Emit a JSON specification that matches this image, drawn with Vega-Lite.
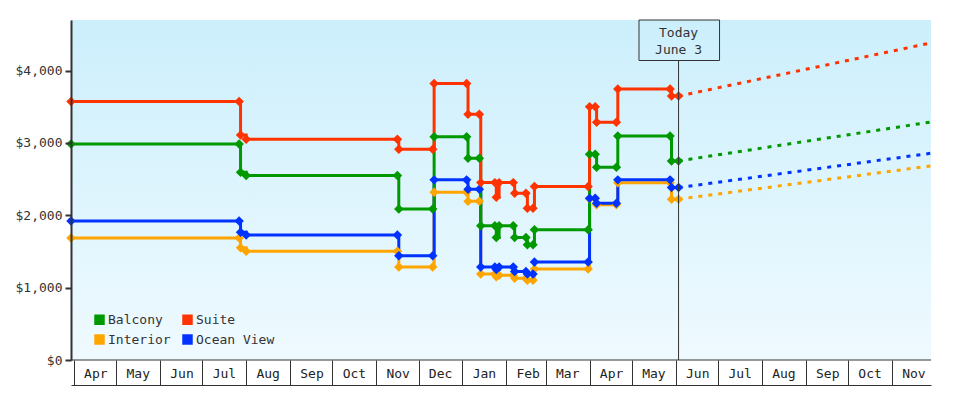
{
  "$schema": "https://vega.github.io/schema/vega-lite/v6.json",
  "autosize": "none",
  "width": 860,
  "height": 340,
  "padding": {"left": 71, "top": 20, "right": 49, "bottom": 40},
  "background": "white",
  "config": {
    "view": {"stroke": null},
    "font": "DejaVu Sans Mono"
  },
  "datasets": {
    "prices": [
      {"date": "2013-03-30", "series": "Interior", "price": 1686},
      {"date": "2013-07-27", "series": "Interior", "price": 1686},
      {"date": "2013-07-28", "series": "Interior", "price": 1552},
      {"date": "2013-08-01", "series": "Interior", "price": 1503},
      {"date": "2013-11-16", "series": "Interior", "price": 1503},
      {"date": "2013-11-17", "series": "Interior", "price": 1286},
      {"date": "2013-12-11", "series": "Interior", "price": 1286},
      {"date": "2013-12-12", "series": "Interior", "price": 2320},
      {"date": "2014-01-04", "series": "Interior", "price": 2320},
      {"date": "2014-01-05", "series": "Interior", "price": 2193},
      {"date": "2014-01-13", "series": "Interior", "price": 2193},
      {"date": "2014-01-14", "series": "Interior", "price": 1189},
      {"date": "2014-01-24", "series": "Interior", "price": 1189},
      {"date": "2014-01-25", "series": "Interior", "price": 1150},
      {"date": "2014-01-27", "series": "Interior", "price": 1170},
      {"date": "2014-02-06", "series": "Interior", "price": 1170},
      {"date": "2014-02-07", "series": "Interior", "price": 1130},
      {"date": "2014-02-15", "series": "Interior", "price": 1130},
      {"date": "2014-02-16", "series": "Interior", "price": 1101},
      {"date": "2014-02-20", "series": "Interior", "price": 1101},
      {"date": "2014-02-21", "series": "Interior", "price": 1258},
      {"date": "2014-03-31", "series": "Interior", "price": 1258},
      {"date": "2014-04-01", "series": "Interior", "price": 2228},
      {"date": "2014-04-05", "series": "Interior", "price": 2228},
      {"date": "2014-04-06", "series": "Interior", "price": 2145},
      {"date": "2014-04-20", "series": "Interior", "price": 2145},
      {"date": "2014-04-21", "series": "Interior", "price": 2450},
      {"date": "2014-05-28", "series": "Interior", "price": 2450},
      {"date": "2014-05-29", "series": "Interior", "price": 2223},
      {"date": "2014-06-03", "series": "Interior", "price": 2223},

      {"date": "2013-03-30", "series": "Ocean View", "price": 1920},
      {"date": "2013-07-27", "series": "Ocean View", "price": 1920},
      {"date": "2013-07-28", "series": "Ocean View", "price": 1766},
      {"date": "2013-08-01", "series": "Ocean View", "price": 1727},
      {"date": "2013-11-16", "series": "Ocean View", "price": 1727},
      {"date": "2013-11-17", "series": "Ocean View", "price": 1441},
      {"date": "2013-12-11", "series": "Ocean View", "price": 1441},
      {"date": "2013-12-12", "series": "Ocean View", "price": 2490},
      {"date": "2014-01-04", "series": "Ocean View", "price": 2490},
      {"date": "2014-01-05", "series": "Ocean View", "price": 2361},
      {"date": "2014-01-13", "series": "Ocean View", "price": 2361},
      {"date": "2014-01-14", "series": "Ocean View", "price": 1286},
      {"date": "2014-01-24", "series": "Ocean View", "price": 1286},
      {"date": "2014-01-25", "series": "Ocean View", "price": 1250},
      {"date": "2014-01-27", "series": "Ocean View", "price": 1286},
      {"date": "2014-02-06", "series": "Ocean View", "price": 1286},
      {"date": "2014-02-07", "series": "Ocean View", "price": 1225},
      {"date": "2014-02-15", "series": "Ocean View", "price": 1225},
      {"date": "2014-02-16", "series": "Ocean View", "price": 1189},
      {"date": "2014-02-20", "series": "Ocean View", "price": 1189},
      {"date": "2014-02-21", "series": "Ocean View", "price": 1354},
      {"date": "2014-03-31", "series": "Ocean View", "price": 1354},
      {"date": "2014-04-01", "series": "Ocean View", "price": 2237},
      {"date": "2014-04-05", "series": "Ocean View", "price": 2237},
      {"date": "2014-04-06", "series": "Ocean View", "price": 2168},
      {"date": "2014-04-20", "series": "Ocean View", "price": 2168},
      {"date": "2014-04-21", "series": "Ocean View", "price": 2490},
      {"date": "2014-05-28", "series": "Ocean View", "price": 2490},
      {"date": "2014-05-29", "series": "Ocean View", "price": 2383},
      {"date": "2014-06-03", "series": "Ocean View", "price": 2383},

      {"date": "2013-03-30", "series": "Balcony", "price": 2986},
      {"date": "2013-07-27", "series": "Balcony", "price": 2986},
      {"date": "2013-07-28", "series": "Balcony", "price": 2596},
      {"date": "2013-08-01", "series": "Balcony", "price": 2552},
      {"date": "2013-11-16", "series": "Balcony", "price": 2552},
      {"date": "2013-11-17", "series": "Balcony", "price": 2086},
      {"date": "2013-12-11", "series": "Balcony", "price": 2086},
      {"date": "2013-12-12", "series": "Balcony", "price": 3087},
      {"date": "2014-01-04", "series": "Balcony", "price": 3087},
      {"date": "2014-01-05", "series": "Balcony", "price": 2789},
      {"date": "2014-01-13", "series": "Balcony", "price": 2789},
      {"date": "2014-01-14", "series": "Balcony", "price": 1855},
      {"date": "2014-01-24", "series": "Balcony", "price": 1855},
      {"date": "2014-01-25", "series": "Balcony", "price": 1694},
      {"date": "2014-01-27", "series": "Balcony", "price": 1855},
      {"date": "2014-02-06", "series": "Balcony", "price": 1855},
      {"date": "2014-02-07", "series": "Balcony", "price": 1694},
      {"date": "2014-02-15", "series": "Balcony", "price": 1694},
      {"date": "2014-02-16", "series": "Balcony", "price": 1593},
      {"date": "2014-02-20", "series": "Balcony", "price": 1593},
      {"date": "2014-02-21", "series": "Balcony", "price": 1800},
      {"date": "2014-03-31", "series": "Balcony", "price": 1800},
      {"date": "2014-04-01", "series": "Balcony", "price": 2844},
      {"date": "2014-04-05", "series": "Balcony", "price": 2844},
      {"date": "2014-04-06", "series": "Balcony", "price": 2665},
      {"date": "2014-04-20", "series": "Balcony", "price": 2665},
      {"date": "2014-04-21", "series": "Balcony", "price": 3097},
      {"date": "2014-05-28", "series": "Balcony", "price": 3097},
      {"date": "2014-05-29", "series": "Balcony", "price": 2752},
      {"date": "2014-06-03", "series": "Balcony", "price": 2752},

      {"date": "2013-03-30", "series": "Suite", "price": 3575},
      {"date": "2013-07-27", "series": "Suite", "price": 3575},
      {"date": "2013-07-28", "series": "Suite", "price": 3110},
      {"date": "2013-08-01", "series": "Suite", "price": 3050},
      {"date": "2013-11-16", "series": "Suite", "price": 3050},
      {"date": "2013-11-17", "series": "Suite", "price": 2913},
      {"date": "2013-12-11", "series": "Suite", "price": 2913},
      {"date": "2013-12-12", "series": "Suite", "price": 3823},
      {"date": "2014-01-04", "series": "Suite", "price": 3823},
      {"date": "2014-01-05", "series": "Suite", "price": 3396},
      {"date": "2014-01-13", "series": "Suite", "price": 3396},
      {"date": "2014-01-14", "series": "Suite", "price": 2452},
      {"date": "2014-01-24", "series": "Suite", "price": 2452},
      {"date": "2014-01-25", "series": "Suite", "price": 2251},
      {"date": "2014-01-27", "series": "Suite", "price": 2452},
      {"date": "2014-02-06", "series": "Suite", "price": 2452},
      {"date": "2014-02-07", "series": "Suite", "price": 2306},
      {"date": "2014-02-15", "series": "Suite", "price": 2306},
      {"date": "2014-02-16", "series": "Suite", "price": 2099},
      {"date": "2014-02-20", "series": "Suite", "price": 2099},
      {"date": "2014-02-21", "series": "Suite", "price": 2400},
      {"date": "2014-03-31", "series": "Suite", "price": 2400},
      {"date": "2014-04-01", "series": "Suite", "price": 3501},
      {"date": "2014-04-05", "series": "Suite", "price": 3501},
      {"date": "2014-04-06", "series": "Suite", "price": 3286},
      {"date": "2014-04-20", "series": "Suite", "price": 3286},
      {"date": "2014-04-21", "series": "Suite", "price": 3745},
      {"date": "2014-05-28", "series": "Suite", "price": 3745},
      {"date": "2014-05-29", "series": "Suite", "price": 3648},
      {"date": "2014-06-03", "series": "Suite", "price": 3648}
    ],
    "forecast": [
      {"date": "2014-06-03", "series": "Interior", "price": 2223},
      {"date": "2014-11-28T16:00:00Z", "series": "Interior", "price": 2683},
      {"date": "2014-06-03", "series": "Ocean View", "price": 2383},
      {"date": "2014-11-28T16:00:00Z", "series": "Ocean View", "price": 2858},
      {"date": "2014-06-03", "series": "Balcony", "price": 2752},
      {"date": "2014-11-28T16:00:00Z", "series": "Balcony", "price": 3290},
      {"date": "2014-06-03", "series": "Suite", "price": 3648},
      {"date": "2014-11-28T16:00:00Z", "series": "Suite", "price": 4383}
    ],
    "annot": [{"today": "2014-06-03", "boxStart": "2014-05-06", "boxEnd": "2014-07-02", "first": "2013-03-30", "last": "2014-11-28T16:00:00Z"}]
  },
  "layer": [
    {
      "data": {"name": "annot"},
      "mark": {"type": "rect", "color": {"gradient": "linear", "x1": 0, "y1": 0, "x2": 0, "y2": 1, "stops": [{"offset": 0, "color": "#CCEFFC"}, {"offset": 1, "color": "#EFFAFF"}]}},
      "encoding": {
        "x": {
          "field": "first", "type": "temporal",
          "scale": {"type": "utc", "domain": [{"year": 2013, "month": 3, "date": 30, "utc": true}, {"year": 2014, "month": 11, "date": 28, "hours": 16, "utc": true}], "nice": false},
          "axis": {
            "title": null, "grid": false, "orient": "bottom", "offset": 25,
            "format": "%b", "tickCount": {"interval": "month", "step": 1},
            "domainColor": "#333", "domainWidth": 1, "tickColor": "#333", "tickWidth": 1, "tickSize": -25,
            "labelPadding": 13, "labelOffset": 21.5, "labelAlign": "center", "labelBaseline": "middle",
            "labelFlush": false, "labelOverlap": false, "labelBound": false,
            "labelFont": "DejaVu Sans Mono", "labelFontSize": 13, "labelColor": "#222", "zindex": 1
          }
        },
        "x2": {"field": "last"},
        "y": {
          "datum": 0, "type": "quantitative",
          "scale": {"domain": [0, 4700], "nice": false, "zero": true},
          "axis": {
            "title": null, "grid": false, "values": [0, 1000, 2000, 3000, 4000], "format": "$,d",
            "domainColor": "#333", "domainWidth": 2, "tickColor": "#333", "tickWidth": 2, "tickSize": 6,
            "labelPadding": 3, "labelFont": "DejaVu Sans Mono", "labelFontSize": 13, "labelColor": "#333", "zindex": 1
          }
        },
        "y2": {"datum": 4700}
      }
    },
    {
      "data": {"name": "forecast"},
      "mark": {"type": "line", "strokeWidth": 3, "strokeDash": [4, 6]},
      "encoding": {
        "x": {"field": "date", "type": "temporal"},
        "y": {"field": "price", "type": "quantitative"},
        "color": {"field": "series", "type": "nominal"}
      }
    },
    {
      "data": {"name": "prices"},
      "mark": {"type": "line", "interpolate": "step-after", "strokeWidth": 3},
      "encoding": {
        "x": {"field": "date", "type": "temporal"},
        "y": {"field": "price", "type": "quantitative"},
        "color": {"field": "series", "type": "nominal"}
      }
    },
    {
      "data": {"name": "prices"},
      "mark": {"type": "point", "shape": "diamond", "filled": true, "size": 90, "opacity": 1},
      "encoding": {
        "x": {"field": "date", "type": "temporal"},
        "y": {"field": "price", "type": "quantitative"},
        "color": {
          "field": "series", "type": "nominal",
          "scale": {"domain": ["Balcony", "Interior", "Suite", "Ocean View"], "range": ["#009900", "#FFA500", "#FF3300", "#0033FF"]},
          "legend": {
            "title": null, "orient": "bottom-left", "offset": 13, "columns": 2, "padding": 0,
            "symbolType": "square", "symbolSize": 110, "symbolStrokeWidth": 0, "symbolOpacity": 1, "symbolOffset": 9,
            "labelFont": "DejaVu Sans Mono", "labelFontSize": 13, "labelColor": "#333", "labelOffset": 2,
            "rowPadding": 6, "columnPadding": 1
          }
        }
      }
    },
    {
      "data": {"name": "annot"},
      "mark": {"type": "rule", "color": "#333", "strokeWidth": 1},
      "encoding": {"y": {"datum": 0}}
    },
    {
      "data": {"name": "annot"},
      "mark": {"type": "rule", "color": "#333", "strokeWidth": 1},
      "encoding": {
        "x": {"field": "today", "type": "temporal"},
        "y": {"datum": 0},
        "y2": {"datum": 4140}
      }
    },
    {
      "data": {"name": "annot"},
      "mark": {"type": "rect", "fillOpacity": 0, "stroke": "#333", "strokeWidth": 1},
      "encoding": {
        "x": {"field": "boxStart", "type": "temporal"},
        "x2": {"field": "boxEnd"},
        "y": {"datum": 4140},
        "y2": {"datum": 4700}
      }
    },
    {
      "data": {"name": "annot"},
      "mark": {"type": "text", "text": ["Today", "June 3"], "lineHeight": 17, "baseline": "middle", "align": "center", "font": "DejaVu Sans Mono", "fontSize": 13, "color": "#333"},
      "encoding": {
        "x": {"field": "today", "type": "temporal"},
        "y": {"datum": 4525}
      }
    }
  ]
}
